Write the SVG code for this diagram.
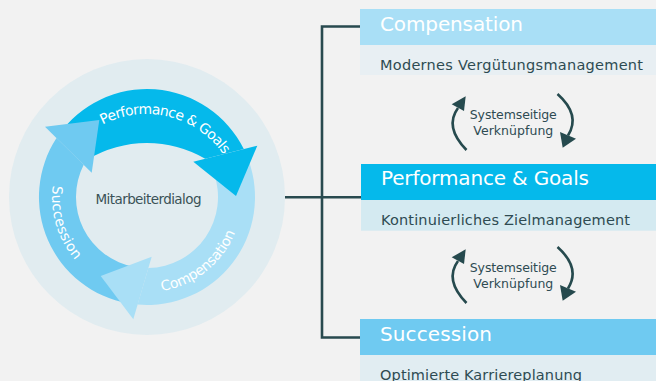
<svg xmlns="http://www.w3.org/2000/svg" width="656" height="381" viewBox="0 0 656 381">
<defs>
<style>
.title{font-family:"DejaVu Sans","Liberation Sans",sans-serif;font-size:20px;fill:#ffffff}
.sub{font-family:"DejaVu Sans","Liberation Sans",sans-serif;font-size:14.5px;fill:#2e4b52}
.ring{font-family:"DejaVu Sans","Liberation Sans",sans-serif;font-size:14px;fill:#ffffff}
.small{font-family:"DejaVu Sans","Liberation Sans",sans-serif;font-size:12.5px;fill:#2e4b52;text-anchor:middle}
.conn{fill:none;stroke:#294a4f;stroke-width:2.6}
.sync{fill:none;stroke:#264a4e;stroke-width:2.6}
.head{fill:#264a4e}
</style>
<path id="pPerf" d="M78.4,142.7 A94,94 0 0 1 236.4,182.1"/>
<path id="pSucc" d="M67.3,145.3 A96,96 0 0 0 109.9,285.4"/>
<path id="pComp" d="M128.3,290.1 A95,95 0 0 0 242,199.5"/>
<g id="syncPair">
<path class="sync" d="M466.5,303 Q444,280 458,261"/>
<polygon class="head" points="465.7,249.3 451.7,257.3 464,264"/>
<path class="sync" d="M557.5,247 Q581,268 568,288.5"/>
<polygon class="head" points="560,285 576,291.7 562.7,300.7"/>
<text class="small" x="513.3" y="272.3" textLength="87" lengthAdjust="spacing">Systemseitige</text>
<text class="small" x="513.3" y="288.3" textLength="80" lengthAdjust="spacing">Verknüpfung</text>
</g>
</defs>
<rect x="0" y="0" width="656" height="381" fill="#f2f2f2"/>

<g id="connectors">
<path class="conn" d="M360,26.5 H322 V337.5 H360"/>
<path class="conn" d="M285,197.3 H361"/>
</g>

<g id="cycle">
<circle cx="147" cy="197" r="138" fill="#e1ecf0"/>
<g id="arrow-succession-body">
<path fill="#6fcaf1" d="M128.25,303.36 A108,108 0 0 1 56.5,138 L83.7,164.8 A71,71 0 0 0 134.67,266.92 Z"/>
</g>
<g id="arrow-compensation-body">
<path fill="#a9dff6" d="M248.49,160.06 A108,108 0 0 1 137.6,304.6 L148.4,268 A71,71 0 0 0 213.72,172.72 Z"/>
</g>
<g id="arrow-performance-body">
<path fill="#05b9eb" d="M58.53,135.05 A108,108 0 0 1 243.8,149.1 L205.2,158.7 A115.8,115.8 0 0 0 88,159.2 Z"/>
</g>
<polygon fill="#6fcaf1" points="99.3,120 45,126.7 91.7,172.7"/>
<polygon fill="#a9dff6" points="151.7,256.7 133.3,319.3 100.7,276"/>
<polygon fill="#05b9eb" points="193.3,161.7 257.3,145.7 236,196"/>
<text class="ring"><textPath href="#pPerf" startOffset="50%" text-anchor="middle" textLength="136" lengthAdjust="spacing">Performance &amp; Goals</textPath></text>
<text class="ring"><textPath href="#pSucc" startOffset="50%" text-anchor="middle" textLength="80" lengthAdjust="spacing">Succession</textPath></text>
<text class="ring"><textPath href="#pComp" startOffset="50%" text-anchor="middle" textLength="98" lengthAdjust="spacing">Compensation</textPath></text>
<text x="148.5" y="204" text-anchor="middle" font-family="DejaVu Sans, Liberation Sans, sans-serif" font-size="13.5" fill="#3a5257" textLength="106" lengthAdjust="spacing">Mitarbeiterdialog</text>
</g>

<g id="box-compensation">
<rect x="360" y="9" width="296" height="36" fill="#a9dff6"/>
<rect x="360" y="45" width="296" height="30" fill="#e8eff3"/>
<text class="title" x="380" y="31" textLength="143" lengthAdjust="spacing">Compensation</text>
<text class="sub" x="380" y="70" textLength="263" lengthAdjust="spacing">Modernes Vergütungsmanagement</text>
</g>

<g id="box-performance">
<rect x="361" y="164" width="295" height="36" fill="#05b9eb"/>
<rect x="361" y="200" width="295" height="30.7" fill="#d4eaf1"/>
<text class="title" x="381" y="185" textLength="208" lengthAdjust="spacing">Performance &amp; Goals</text>
<text class="sub" x="381" y="225" textLength="249" lengthAdjust="spacing">Kontinuierliches Zielmanagement</text>
</g>

<g id="box-succession">
<rect x="360" y="319" width="296" height="36" fill="#6fcaf1"/>
<rect x="360" y="355" width="296" height="26" fill="#e1edf2"/>
<text class="title" x="380" y="340.7" textLength="112" lengthAdjust="spacing">Succession</text>
<text class="sub" x="380" y="380" textLength="202" lengthAdjust="spacing">Optimierte Karriereplanung</text>
</g>

<g id="link-compensation-performance">
<use href="#syncPair" transform="translate(0,-153)"/>
</g>
<g id="link-performance-succession">
<use href="#syncPair"/>
</g>
</svg>
